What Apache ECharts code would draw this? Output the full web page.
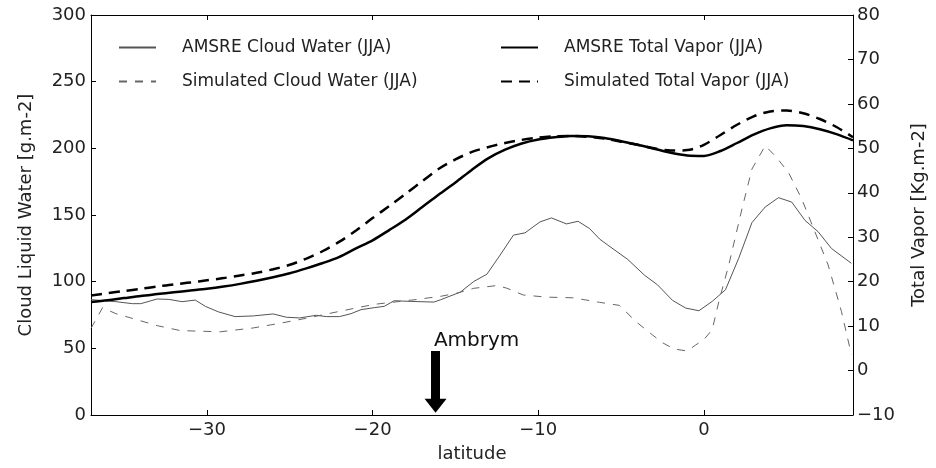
<!DOCTYPE html>
<html>
<head>
<meta charset="utf-8">
<script src="https://cdn.jsdelivr.net/npm/echarts@6/dist/echarts.min.js"></script>
<style>html,body{margin:0;padding:0;background:#fff}#c{width:936px;height:468px}</style>
</head>
<body>
<div id="c"></div>
<script>
// Total vapor latitudes and values (Kg.m-2, right axis)
const latTV = [-37,-36,-35,-34,-33,-32,-31,-30,-29,-28,-27,-26,-25,-24,-23,-22,-21,-20,-19,-18,-17,-16,-15,-14,-13,-12,-11,-10,-9,-8,-7,-6,-5,-4,-3,-2,-1,0,1,2,3,4,5,6,7,8,9];
const amsreTV = [15.4,15.8,16.3,16.8,17.2,17.6,18.0,18.4,18.9,19.5,20.2,21.0,21.9,23.0,24.2,25.6,27.5,29.3,31.6,34.0,36.8,39.6,42.3,45.2,47.8,49.7,51.1,52.0,52.5,52.8,52.7,52.3,51.6,50.8,49.9,49.0,48.4,48.3,49.4,51.2,53.1,54.5,55.2,55.0,54.3,53.2,51.8];
const simTV = [16.9,17.4,17.9,18.4,18.9,19.4,19.8,20.3,20.8,21.4,22.0,22.8,23.8,25.2,26.9,29.0,31.5,34.3,37.0,39.8,42.6,45.4,47.5,49.2,50.3,51.2,51.9,52.4,52.7,52.8,52.6,52.2,51.5,50.8,50.0,49.5,49.6,50.8,53.0,55.3,57.2,58.3,58.5,57.9,56.6,54.8,52.5];

// AMSRE cloud water (g.m-2, left axis)
const latAmsreCW = [-37,-36.5,-35.5,-34.5,-34,-33,-32.3,-31.5,-30.7,-30.1,-29.3,-28.3,-27.2,-26.0,-25.2,-24.4,-23.4,-22.8,-22.0,-21.3,-20.7,-19.9,-19.3,-18.7,-17.7,-16.3,-15.9,-14.7,-13.9,-13.1,-12.3,-11.5,-10.8,-9.9,-9.2,-8.3,-7.6,-6.9,-6.3,-5.8,-4.6,-3.6,-2.8,-1.9,-1.1,-0.3,0.5,1.3,2.1,2.9,3.7,4.5,5.3,6.1,6.9,7.7,8.9];
const amsreCW = [86.5,86,85,83.5,83.5,87,86.7,85,86.2,81.5,77.3,73.8,74.3,75.8,73.3,72.8,74.8,73.8,73.8,76,79,80.5,81.5,85.7,85.2,84.7,86.4,92.2,100.1,105.6,120,134.9,136.6,144.8,147.8,143.3,145.3,139.8,132,127.4,116.7,105,97.6,86,80.2,78.2,85.2,93.9,117.5,144.3,156,163,159.7,146,137.4,124.9,113.8];

// Simulated cloud water (g.m-2, left axis)
const latSimCW = [-37,-36.3,-35.5,-34.6,-33,-31.6,-29.2,-27.2,-25.5,-23.9,-21.9,-19.9,-17.5,-15.9,-14.9,-13.9,-12.5,-11.9,-10.9,-9.5,-7.9,-6.3,-5.1,-4.1,-3.1,-2.5,-1.8,-1.0,-0.5,0.0,0.5,0.9,1.5,2.3,2.9,3.7,4.3,5.1,5.9,6.7,7.5,8.3,8.9];
const simCW = [65,80.5,76,72.8,67,63.3,62.4,65.3,69,72.8,78,83,86.4,89,91.4,95,97.1,95.1,90,88.4,87.9,84.5,82.2,70,60,54.2,49.5,48,52.5,56.6,64,85,112.5,154.7,184.5,201.9,194.4,182,162.2,137.4,112.5,77.8,45.4];

// Annotation (Ambrym volcano)
const ambrymLat = -16.2;
const ambrymArrow = [48, 7];
const ambrymLabel = 'Ambrym';

const names = ['AMSRE Cloud Water (JJA)','Simulated Cloud Water (JJA)','AMSRE Total Vapor (JJA)','Simulated Total Vapor (JJA)'];

const zip = (a, b) => a.map((x, i) => [x, b[i]]);
const FONT = 'DejaVu Sans';
const minus = v => String(v).replace('-', '\u2212');

const chart = echarts.init(document.getElementById('c'), null, {renderer: 'canvas'});
const axisLineStyle = {color: '#000', width: 1};
const legendBase = {
  orient: 'vertical', itemWidth: 37, itemHeight: 14, itemGap: 17,
  itemStyle: {opacity: 0, borderWidth: 0},
  textStyle: {fontFamily: FONT, fontSize: 17, color: '#222', lineHeight: 14, padding: [0,0,0,21]},
  selectedMode: false
};
chart.setOption({
  animation: false,
  backgroundColor: '#fff',
  grid: {left: 91, right: 83, top: 15, bottom: 50},
  legend: [
    Object.assign({}, legendBase, {left: 113, top: 34, data: [names[0], names[1]]}),
    Object.assign({}, legendBase, {left: 495, top: 34, data: [names[2], names[3]]})
  ],
  xAxis: [{
    type: 'value', min: -37, max: 9, minInterval: 10, maxInterval: 10, splitNumber: 5,
    name: 'latitude', nameLocation: 'middle', nameGap: 30,
    nameTextStyle: {fontFamily: FONT, fontSize: 18, color: '#222'},
    axisLine: {onZero: false, lineStyle: axisLineStyle},
    axisTick: {inside: true, length: 5, lineStyle: axisLineStyle},
    axisLabel: {fontFamily: FONT, fontSize: 18, color: '#222', margin: 6, showMinLabel: false, showMaxLabel: false, formatter: minus},
    splitLine: {show: false}
  }, {
    type: 'value', position: 'top', min: -37, max: 9, minInterval: 10, maxInterval: 10, splitNumber: 5,
    axisLine: {onZero: false, lineStyle: axisLineStyle},
    axisTick: {inside: true, length: 5, lineStyle: axisLineStyle},
    axisLabel: {show: false}, splitLine: {show: false}
  }],
  yAxis: [{
    type: 'value', min: 0, max: 300, interval: 50,
    name: 'Cloud Liquid Water [g.m-2]', nameLocation: 'middle', nameGap: 56,
    nameTextStyle: {fontFamily: FONT, fontSize: 18, color: '#222'},
    axisLine: {show: true, onZero: false, lineStyle: axisLineStyle},
    axisTick: {show: true, inside: true, length: 5, lineStyle: axisLineStyle},
    axisLabel: {fontFamily: FONT, fontSize: 18, color: '#222', margin: 5},
    splitLine: {show: false}
  }, {
    type: 'value', min: -10, max: 80, interval: 10, position: 'right',
    name: 'Total Vapor [Kg.m-2]', nameLocation: 'middle', nameGap: 57, nameRotate: 90,
    nameTextStyle: {fontFamily: FONT, fontSize: 18, color: '#222'},
    axisLine: {show: true, onZero: false, lineStyle: axisLineStyle},
    axisTick: {show: true, inside: true, length: 5, lineStyle: axisLineStyle},
    axisLabel: {fontFamily: FONT, fontSize: 18, color: '#222', margin: 4, formatter: minus},
    splitLine: {show: false}
  }],
  series: [{
    name: names[0], type: 'line', yAxisIndex: 0, symbol: 'none', smooth: false,
    data: zip(latAmsreCW, amsreCW), color: '#555',
    lineStyle: {color: '#555', width: 1},
    markLine: {
      silent: true, symbol: ['none', 'triangle'], symbolSize: [22, 14],
      lineStyle: {color: '#000', width: 9, type: 'solid'}, label: {show: false},
      itemStyle: {color: '#000'},
      data: [[{coord: [ambrymLat, ambrymArrow[0]]}, {coord: [ambrymLat, ambrymArrow[1]]}]]
    },
    markPoint: {
      silent: true, symbol: 'circle', symbolSize: 0,
      label: {show: true, position: 'right', distance: 0, formatter: ambrymLabel, fontFamily: FONT, fontSize: 20, color: '#111'},
      data: [{coord: [ambrymLat - 0.1, 55.6]}]
    }
  }, {
    name: names[1], type: 'line', yAxisIndex: 0, symbol: 'none',
    data: zip(latSimCW, simCW), color: '#666',
    lineStyle: {color: '#666', width: 1, type: [8, 8]}
  }, {
    name: names[2], type: 'line', yAxisIndex: 1, symbol: 'none', smooth: 0.3,
    data: zip(latTV, amsreTV), color: '#000',
    lineStyle: {color: '#000', width: 2.5}
  }, {
    name: names[3], type: 'line', yAxisIndex: 1, symbol: 'none', smooth: 0.3,
    data: zip(latTV, simTV), color: '#000',
    lineStyle: {color: '#000', width: 2.5, type: [11, 7]}
  }]
});
</script>
</body>
</html>
